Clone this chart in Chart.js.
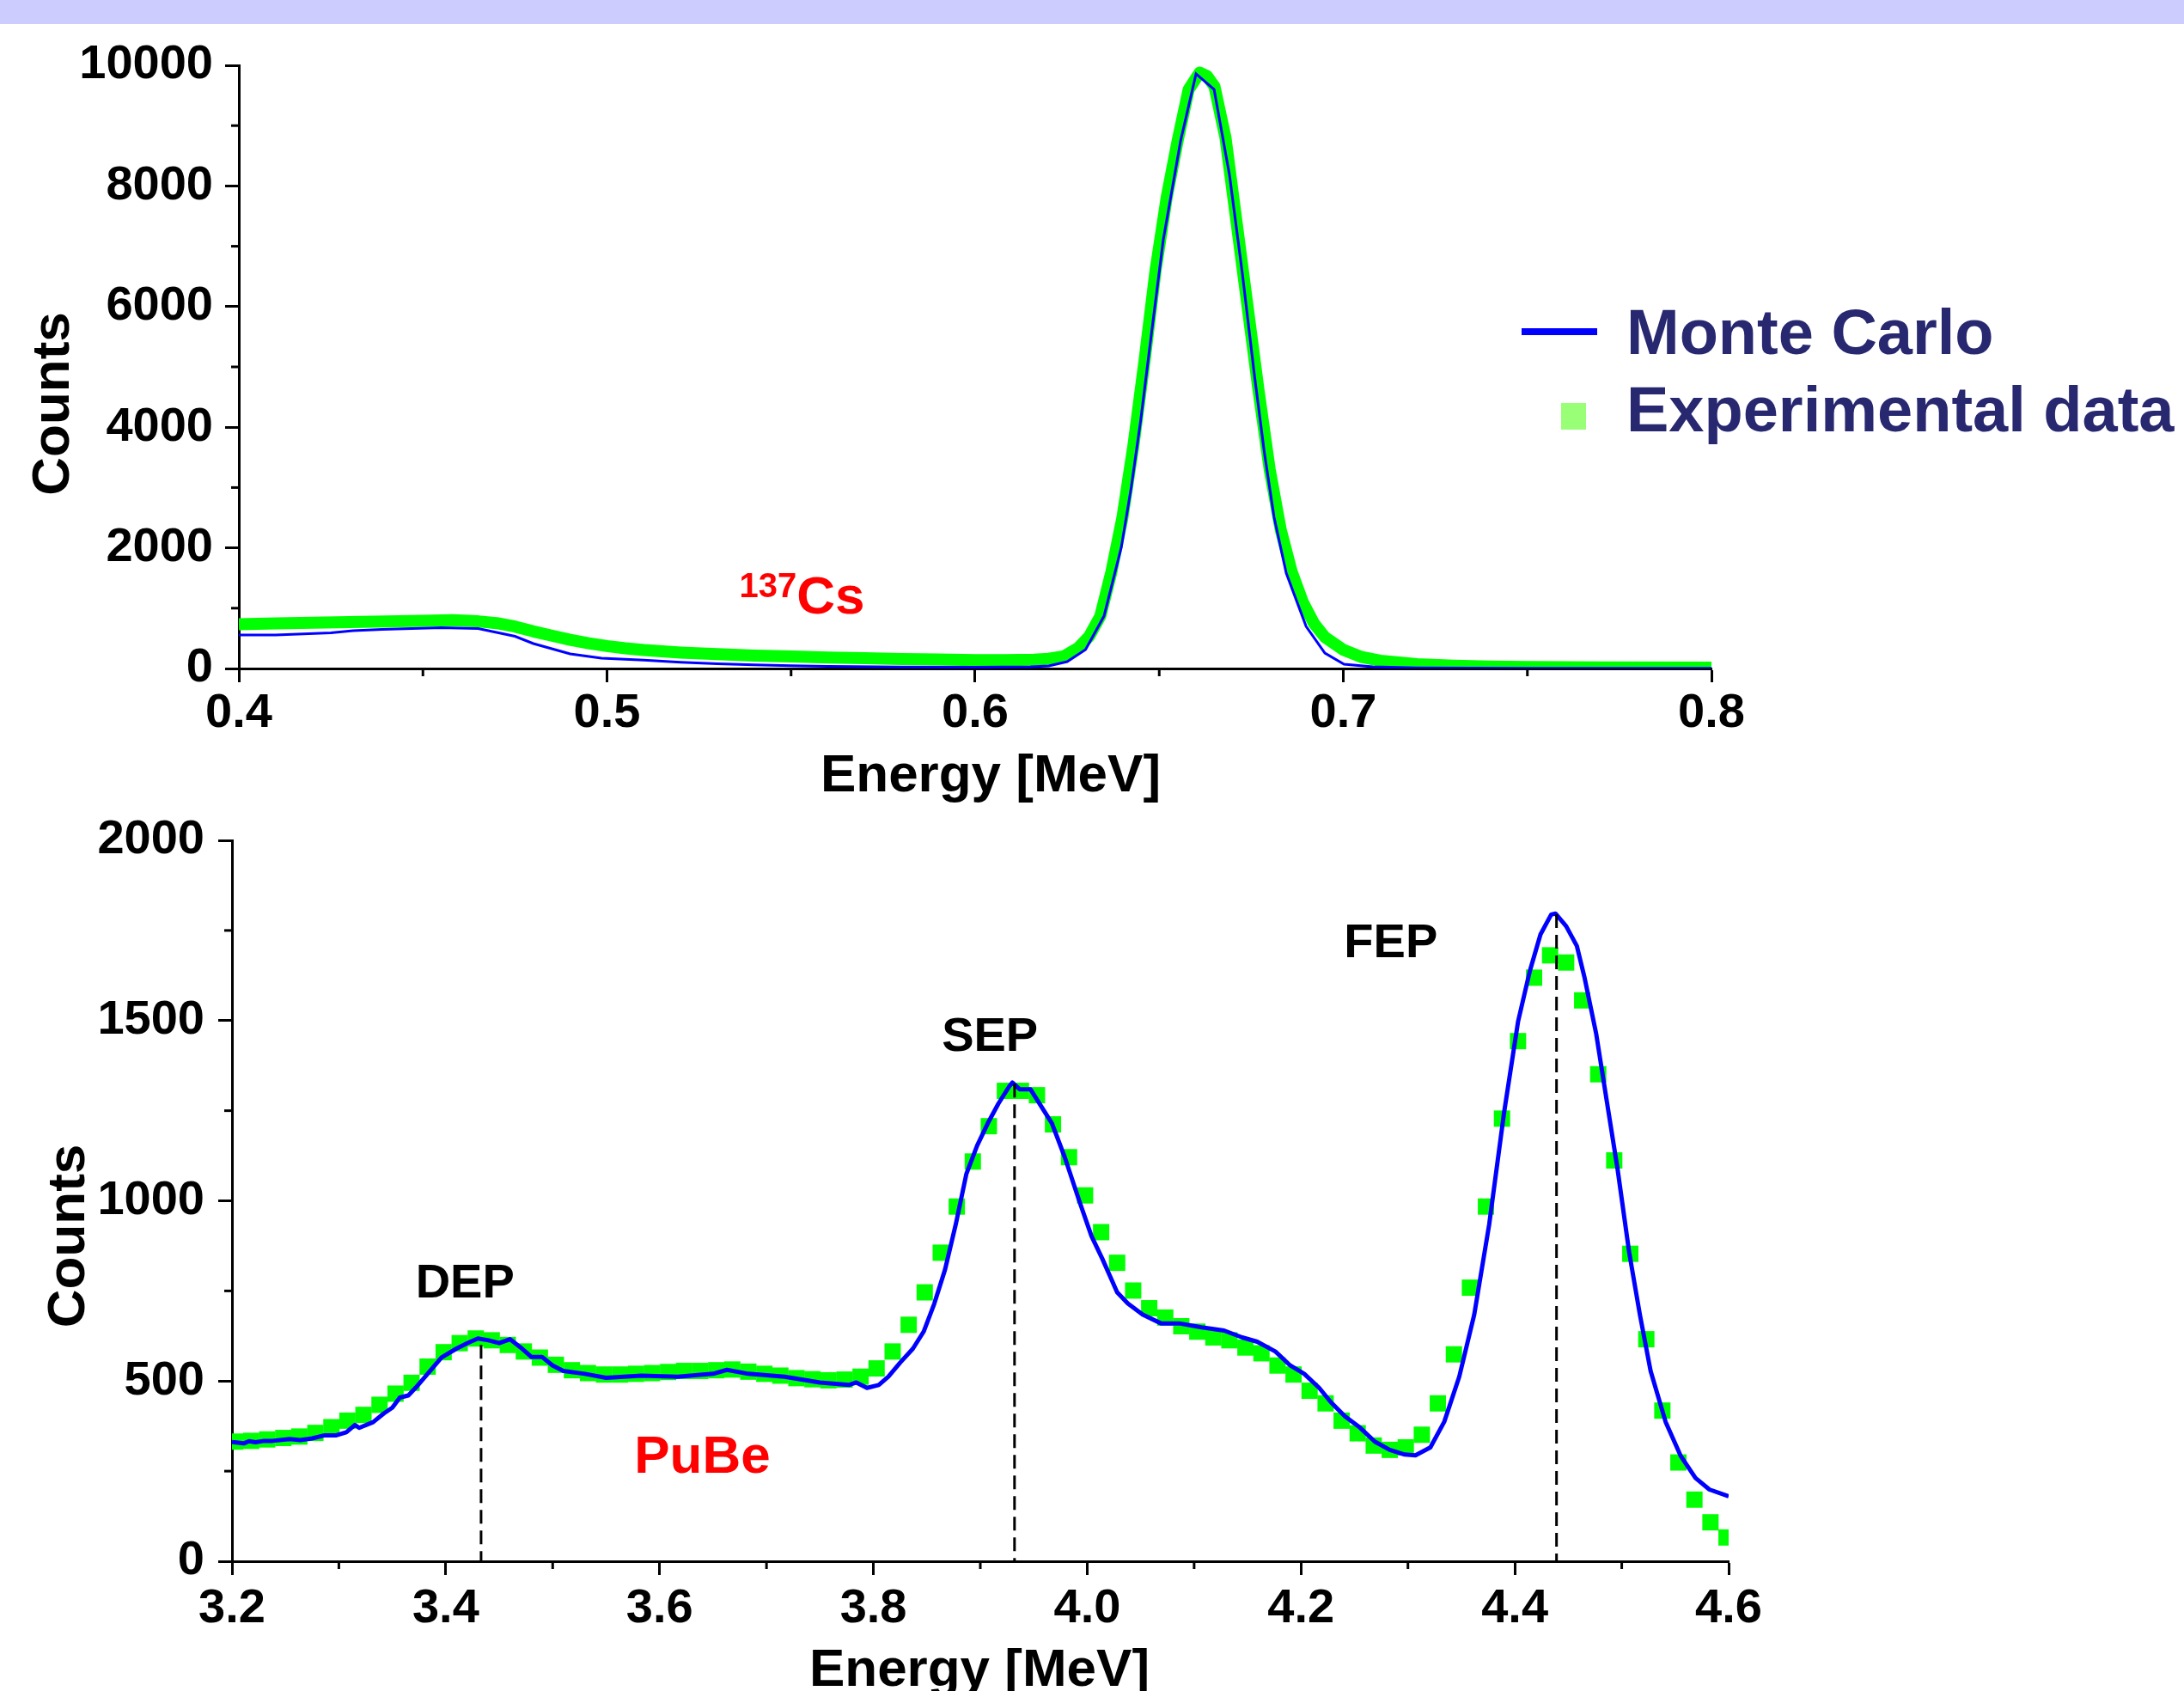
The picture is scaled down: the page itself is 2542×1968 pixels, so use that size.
<!DOCTYPE html>
<html>
<head>
<meta charset="utf-8">
<title>Energy spectra: Monte Carlo vs experiment</title>
<script src="https://cdn.jsdelivr.net/npm/chart.js@4.4.1/dist/chart.umd.min.js"></script>
<style>
  html, body { margin: 0; padding: 0; background: #fff; overflow: hidden; }
  body { width: 2542px; height: 1968px; position: relative; }
  #band { position: absolute; left: 0; top: 0; width: 2542px; height: 28px; background: #ccccff; }
  canvas { position: absolute; left: 0; }
  #csChart { top: 0; }
  #pubeChart { top: 920px; }
</style>
</head>
<body>
<div id="band"></div>
<canvas id="csChart" width="2542" height="950"></canvas>
<canvas id="pubeChart" width="2542" height="1048"></canvas>
<script>
// ---- 137Cs spectrum (top panel) ----
const csEnergyMC = [0.400, 0.410, 0.425, 0.431, 0.439, 0.455, 0.465, 0.475, 0.480, 0.490,
  0.4985, 0.510, 0.520, 0.530, 0.540, 0.550, 0.560, 0.580, 0.600, 0.615,
  0.620, 0.625, 0.630, 0.635, 0.6397, 0.6424, 0.6450, 0.6476, 0.6511, 0.6558,
  0.6600, 0.6649, 0.6691, 0.6726, 0.6759, 0.6786, 0.6812, 0.6845, 0.6899, 0.6950,
  0.7002, 0.708, 0.720, 0.750, 0.800];
const csCountsMC = [555, 555, 591, 627, 648, 677, 662, 534, 413, 242,
  171, 140, 105, 80, 60, 45, 35, 25, 20, 30,
  43, 114, 313, 869, 2009, 3006, 4131, 5413, 7108, 8746,
  9858, 9601, 8177, 6538, 4843, 3561, 2507, 1581, 698, 256,
  71, 28, 10, 5, 5];

const csEnergyExp = [0.400, 0.410, 0.420, 0.430, 0.440, 0.450, 0.458, 0.465, 0.470, 0.475,
  0.480, 0.485, 0.490, 0.495, 0.500, 0.505, 0.510, 0.520, 0.530, 0.540,
  0.550, 0.560, 0.570, 0.580, 0.590, 0.600, 0.608, 0.616, 0.620, 0.624,
  0.628, 0.631, 0.634, 0.637, 0.640, 0.643, 0.646, 0.649, 0.652, 0.655,
  0.658, 0.661, 0.663, 0.665, 0.668, 0.671, 0.674, 0.677, 0.680, 0.683,
  0.686, 0.689, 0.692, 0.695, 0.700, 0.705, 0.710, 0.715, 0.720, 0.730,
  0.740, 0.750, 0.770, 0.800];
const csCountsExp = [735, 748, 758, 768, 780, 792, 800, 782, 752, 695,
  615, 545, 475, 418, 372, 335, 305, 265, 237, 215,
  198, 183, 170, 158, 148, 140, 138, 145, 160, 200,
  340, 535, 869, 1600, 2500, 3700, 5100, 6600, 7800, 8750,
  9600, 9880, 9820, 9650, 8800, 7400, 6000, 4600, 3300, 2300,
  1600, 1100, 750, 520, 310, 190, 130, 100, 70, 45,
  32, 25, 18, 15];

const csTicksX = [0.4, 0.5, 0.6, 0.7, 0.8];
const csMinorX = [0.45, 0.55, 0.65, 0.75];
const csTicksY = [0, 2000, 4000, 6000, 8000, 10000];
const csMinorY = [1000, 3000, 5000, 7000, 9000];

// ---- PuBe spectrum (bottom panel) ----
const pubeEnergyMC = [3.200, 3.211, 3.216, 3.222, 3.230, 3.238, 3.254, 3.264, 3.275, 3.286,
  3.297, 3.307, 3.315, 3.319, 3.332, 3.342, 3.350, 3.357, 3.365, 3.372,
  3.383, 3.396, 3.410, 3.420, 3.430, 3.440, 3.450, 3.460, 3.470, 3.480,
  3.490, 3.500, 3.510, 3.530, 3.550, 3.583, 3.617, 3.650, 3.663, 3.683,
  3.717, 3.750, 3.777, 3.784, 3.794, 3.805, 3.814, 3.825, 3.837, 3.847,
  3.857, 3.867, 3.877, 3.887, 3.897, 3.907, 3.917, 3.927, 3.930, 3.937,
  3.947, 3.957, 3.967, 3.979, 3.993, 4.004, 4.014, 4.021, 4.028, 4.038,
  4.052, 4.069, 4.086, 4.107, 4.128, 4.145, 4.159, 4.176, 4.190, 4.203,
  4.217, 4.228, 4.241, 4.255, 4.269, 4.283, 4.297, 4.307, 4.321, 4.334,
  4.348, 4.362, 4.376, 4.390, 4.403, 4.414, 4.424, 4.434, 4.438, 4.448,
  4.458, 4.465, 4.476, 4.486, 4.496, 4.507, 4.517, 4.527, 4.541, 4.555,
  4.569, 4.582, 4.600];
const pubeCountsMC = [331, 327, 333, 330, 334, 334, 339, 336, 341, 349,
  349, 358, 378, 370, 386, 410, 426, 454, 460, 482,
  520, 565, 590, 605, 618, 613, 605, 616, 593, 567,
  567, 543, 528, 520, 509, 515, 512, 520, 531, 520,
  512, 496, 489, 496, 481, 489, 512, 551, 590, 637,
  715, 809, 934, 1075, 1153, 1215, 1270, 1317, 1328, 1309,
  1309, 1262, 1215, 1121, 996, 902, 840, 793, 746, 715,
  684, 660, 660, 649, 640, 621, 609, 582, 543, 520,
  481, 441, 402, 371, 332, 309, 296, 294, 316, 387,
  512, 684, 934, 1246, 1497, 1637, 1739, 1794, 1797, 1762,
  1707, 1622, 1465, 1277, 1090, 856, 684, 528, 387, 293,
  231, 199, 180];

const pubeEnergyExp = [3.203, 3.218, 3.233, 3.248, 3.263, 3.278, 3.293, 3.308, 3.323, 3.338,
  3.353, 3.368, 3.383, 3.398, 3.413, 3.428, 3.443, 3.458, 3.473, 3.488,
  3.503, 3.518, 3.533, 3.548, 3.563, 3.578, 3.593, 3.608, 3.623, 3.638,
  3.653, 3.668, 3.683, 3.698, 3.713, 3.728, 3.743, 3.758, 3.773, 3.788,
  3.803, 3.818, 3.833, 3.848, 3.863, 3.878, 3.893, 3.908, 3.923, 3.938,
  3.953, 3.968, 3.983, 3.998, 4.013, 4.028, 4.043, 4.058, 4.073, 4.088,
  4.103, 4.118, 4.133, 4.148, 4.163, 4.178, 4.193, 4.208, 4.223, 4.238,
  4.253, 4.268, 4.283, 4.298, 4.313, 4.328, 4.343, 4.358, 4.373, 4.388,
  4.403, 4.418, 4.433, 4.448, 4.463, 4.478, 4.493, 4.508, 4.523, 4.538,
  4.553, 4.568, 4.583, 4.598];
const pubeCountsExp = [332, 334, 338, 342, 346, 356, 372, 390, 406, 434,
  465, 495, 540, 580, 605, 618, 613, 600, 582, 565,
  545, 530, 522, 518, 518, 520, 522, 525, 528, 528,
  530, 532, 526, 520, 515, 508, 505, 502, 504, 512,
  535, 582, 656, 746, 856, 984, 1109, 1207, 1305, 1305,
  1293, 1212, 1121, 1015, 913, 828, 751, 702, 676, 652,
  637, 621, 613, 593, 577, 543, 518, 473, 438, 390,
  355, 321, 309, 316, 351, 438, 574, 759, 984, 1228,
  1443, 1619, 1681, 1661, 1556, 1351, 1112, 853, 616, 418,
  274, 171, 108, 66];

const peakNames = ['DEP', 'SEP', 'FEP'];
const peakEnergies = [3.433, 3.932, 4.439];
const peakTops = [600, 1325, 1795];

const pubeTicksX = [3.2, 3.4, 3.6, 3.8, 4.0, 4.2, 4.4, 4.6];
const pubeMinorX = [3.3, 3.5, 3.7, 3.9, 4.1, 4.3, 4.5];
const pubeTicksY = [0, 500, 1000, 1500, 2000];
const pubeMinorY = [250, 750, 1250, 1750];

const FAMILY = '"Liberation Sans", Arial, Helvetica, sans-serif';
const tickFont = { family: FAMILY, size: 56, weight: 'bold' };
const pts = (xs, ys) => xs.map((x, i) => ({ x: x, y: ys[i] }));

// minor ticks, axis titles, notes and legend
const decor = {
  id: 'decor',
  afterDraw(chart, args, opts) {
    const { ctx, chartArea: area } = chart;
    const x = chart.scales.x, y = chart.scales.y;
    ctx.save();
    ctx.strokeStyle = '#000';
    ctx.lineWidth = 3;
    opts.minorX.forEach(v => {
      const px = x.getPixelForValue(v);
      ctx.beginPath(); ctx.moveTo(px, area.bottom); ctx.lineTo(px, area.bottom + 9); ctx.stroke();
    });
    opts.minorY.forEach(v => {
      const py = y.getPixelForValue(v);
      ctx.beginPath(); ctx.moveTo(area.left, py); ctx.lineTo(area.left - 9, py); ctx.stroke();
    });

    // axis titles
    ctx.fillStyle = '#000';
    ctx.font = 'bold 62px ' + FAMILY;
    ctx.textAlign = 'center';
    ctx.textBaseline = 'alphabetic';
    ctx.fillText('Energy [MeV]', (area.left + area.right) / 2 + opts.xTitle.dx, area.bottom + opts.xTitle.dy);
    ctx.save();
    ctx.translate(opts.yTitle.x, (area.top + area.bottom) / 2 + opts.yTitle.dy);
    ctx.rotate(-Math.PI / 2);
    ctx.fillText('Counts', 0, 0);
    ctx.restore();

    // notes placed in data units
    opts.notes.forEach(n => {
      ctx.font = n.font;
      ctx.fillStyle = n.color;
      ctx.textAlign = n.align || 'center';
      ctx.textBaseline = 'middle';
      ctx.fillText(n.text, x.getPixelForValue(n.x), y.getPixelForValue(n.y));
    });

    if (opts.legend) {
      const mc = chart.data.datasets[0], ex = chart.data.datasets[1];
      ctx.strokeStyle = mc.borderColor;
      ctx.lineWidth = 8;
      ctx.beginPath(); ctx.moveTo(1771, 386); ctx.lineTo(1859, 386); ctx.stroke();
      ctx.fillStyle = '#99ff77';
      ctx.fillRect(1817, 469, 29, 31);
      ctx.font = 'bold 74px ' + FAMILY;
      ctx.fillStyle = '#282870';
      ctx.textAlign = 'left';
      ctx.textBaseline = 'alphabetic';
      ctx.fillText(mc.label, 1893, 412);
      ctx.fillText(ex.label, 1893, 502);
    }
    ctx.restore();
  }
};

function axisX(min, max, ticks, height, pad) {
  return {
    type: 'linear', min: min, max: max, z: 1,
    afterBuildTicks: s => { s.ticks = ticks.map(v => ({ value: v })); },
    afterFit: s => { s.height = height; },
    border: { display: true, color: '#000', width: 3 },
    grid: { display: true, drawOnChartArea: false, drawTicks: true, tickLength: 16, tickWidth: 3, tickColor: '#000' },
    ticks: { color: '#000', font: tickFont, padding: pad, maxRotation: 0, autoSkip: false,
      callback: v => Number(v).toFixed(1) }
  };
}

function axisY(min, max, ticks, width, pad) {
  return {
    type: 'linear', min: min, max: max, z: 1,
    afterBuildTicks: s => { s.ticks = ticks.map(v => ({ value: v })); },
    afterFit: s => { s.width = width; },
    border: { display: true, color: '#000', width: 3 },
    grid: { display: true, drawOnChartArea: false, drawTicks: true, tickLength: 16, tickWidth: 3, tickColor: '#000' },
    ticks: { color: '#000', font: tickFont, padding: pad, autoSkip: false, callback: v => String(v) }
  };
}

new Chart(document.getElementById('csChart'), {
  type: 'scatter',
  data: {
    datasets: [
      { label: 'Monte Carlo', data: pts(csEnergyMC, csCountsMC), showLine: true,
        borderColor: '#0000ff', borderWidth: 3, pointRadius: 0, order: 1 },
      { label: 'Experimental data', data: pts(csEnergyExp, csCountsExp), showLine: true,
        borderColor: '#00ff00', backgroundColor: '#00ff00', borderWidth: 14, borderJoinStyle: 'round',
        pointRadius: 0, order: 2, clip: 0 }
    ]
  },
  options: {
    responsive: false, animation: false, devicePixelRatio: 1,
    layout: { padding: { left: 0, top: 76, right: 550, bottom: 12 } },
    plugins: {
      legend: { display: false }, tooltip: { enabled: false },
      decor: {
        minorX: csMinorX, minorY: csMinorY,
        xTitle: { dx: 18, dy: 143 }, yTitle: { x: 80, dy: 43 },
        legend: true,
        notes: [
          { text: '137', x: 0.5515, y: 1340, align: 'right', color: '#ff0000', font: 'bold 40px ' + FAMILY },
          { text: 'Cs', x: 0.5515, y: 1150, align: 'left', color: '#ff0000', font: 'bold 62px ' + FAMILY }
        ]
      }
    },
    scales: {
      x: axisX(0.4, 0.8, csTicksX, 160, 3),
      y: axisY(0, 10000, csTicksY, 278, 14)
    }
  },
  plugins: [decor]
});

const peakLines = peakEnergies.map((e, i) => ({
  label: peakNames[i], data: [{ x: e, y: peakTops[i] }, { x: e, y: 0 }], showLine: true,
  borderColor: '#000', borderWidth: 3, borderDash: [16, 8], pointRadius: 0, order: 0
}));

new Chart(document.getElementById('pubeChart'), {
  type: 'scatter',
  data: {
    datasets: [
      { label: 'Monte Carlo', data: pts(pubeEnergyMC, pubeCountsMC), showLine: true,
        borderColor: '#0000ff', borderWidth: 5, borderJoinStyle: 'round', pointRadius: 0, order: 1 },
      { label: 'Experimental data', data: pts(pubeEnergyExp, pubeCountsExp), showLine: false,
        pointStyle: 'rect', pointRadius: 13.4, pointBorderWidth: 0,
        backgroundColor: '#00ff00', borderColor: '#00ff00', order: 2 }
    ].concat(peakLines)
  },
  options: {
    responsive: false, animation: false, devicePixelRatio: 1,
    layout: { padding: { left: 0, top: 58, right: 530, bottom: 11 } },
    plugins: {
      legend: { display: false }, tooltip: { enabled: false },
      decor: {
        minorX: pubeMinorX, minorY: pubeMinorY,
        xTitle: { dx: -1, dy: 145 }, yTitle: { x: 98, dy: 41 },
        legend: false,
        notes: peakNames.map((name, i) => ({
          text: name, x: [3.418, 3.909, 4.284][i], y: [768, 1452, 1712][i],
          color: '#000', font: 'bold 56px ' + FAMILY
        })).concat([
          { text: 'PuBe', x: 3.640, y: 286, color: '#ff0000', font: 'bold 62px ' + FAMILY }
        ])
      }
    },
    scales: {
      x: axisX(3.2, 4.6, pubeTicksX, 140, 6),
      y: axisY(0, 2000, pubeTicksY, 270, 16)
    }
  },
  plugins: [decor]
});
</script>
</body>
</html>
